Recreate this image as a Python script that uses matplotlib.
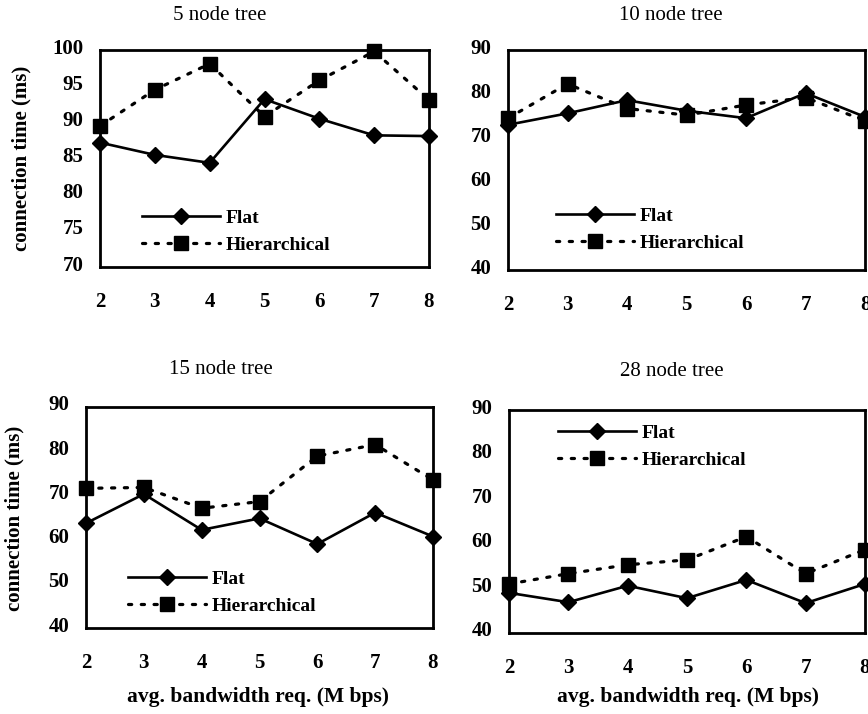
import matplotlib
matplotlib.use("Agg")
import matplotlib.pyplot as plt
from matplotlib.transforms import ScaledTranslation

plt.rcParams['font.family'] = ['Liberation Serif', 'DejaVu Serif']

x = [2, 3, 4, 5, 6, 7, 8]
xticks = [2, 3, 4, 5, 6, 7, 8]

titles = ["5 node tree", "10 node tree", "15 node tree", "28 node tree"]

flat_5 = [87.2, 85.5, 84.4, 93.2, 90.5, 88.2, 88.1]
hier_5 = [89.5, 94.5, 98.1, 90.8, 95.8, 99.8, 93.1]

flat_10 = [73.0, 75.6, 78.6, 76.2, 74.5, 80.2, 74.8]
hier_10 = [74.5, 82.3, 76.7, 75.2, 77.5, 79.2, 73.9]

flat_15 = [63.7, 70.3, 62.2, 64.8, 59.0, 66.1, 60.7]
hier_15 = [71.6, 71.8, 67.1, 68.6, 78.9, 81.5, 73.5]

flat_28 = [49.0, 46.9, 50.6, 47.8, 51.9, 46.7, 51.0]
hier_28 = [51.0, 53.3, 55.3, 56.4, 61.6, 53.3, 58.7]

yranges = [(70, 100, 5), (40, 90, 10), (40, 90, 10), (40, 90, 10)]
series = [(flat_5, hier_5), (flat_10, hier_10), (flat_15, hier_15), (flat_28, hier_28)]

ylabel = "connection time (ms)"
xlabel = "avg. bandwidth req. (M bps)"

W, H = 868, 714
fig = plt.figure(figsize=(W / 100, H / 100), dpi=100)

# axes boxes in pixels: left, top, right, bottom
boxes = [(100, 50, 429, 267), (508, 50, 865, 270), (86, 407, 433, 628), (509, 410, 865, 633)]
# legend anchor (upper-left of handle) in pixels
leg_pos = [(142, 209), (556, 207), (128, 570), (558, 424)]
title_pos = [(220, 16), (671, 16), (221, 370), (672, 372)]

def fx(px):
    return px / W

def fy(py):
    return (H - py) / H

lift = ScaledTranslation(0, 4 / 100, fig.dpi_scale_trans)

axes = []
for i, (l, t, r, b) in enumerate(boxes):
    ax = fig.add_axes([fx(l), fy(b), (r - l) / W, (b - t) / H])
    axes.append(ax)
    fl, hi = series[i]
    ax.plot(x, fl, color='black', lw=1.9, marker='D', ms=8.5, mfc='black',
            mec='black', clip_on=False, zorder=3, label='Flat')
    ax.plot(x, hi, color='black', lw=2.3, linestyle=(0, (1, 3)), dash_capstyle='round',
            marker='s', ms=10.5, mfc='black', mec='black', clip_on=False, zorder=3,
            label='Hierarchical')
    y0, y1, st = yranges[i]
    ax.set_xlim(2, 8)
    ax.set_ylim(y0, y1)
    ax.set_yticks(list(range(y0, y1 + 1, st)))
    ax.set_xticks(xticks)
    ax.tick_params(length=0, labelsize=15)
    ax.tick_params(axis='x', pad=18)
    ax.tick_params(axis='y', pad=12)
    for lab in ax.get_xticklabels() + ax.get_yticklabels():
        lab.set_fontweight('bold')
    for tick in ax.yaxis.get_major_ticks():
        tick.label1.set_transform(tick.label1.get_transform() + lift)
    for s in ax.spines.values():
        s.set_linewidth(2.0)
    tx, ty = title_pos[i]
    fig.text(fx(tx), fy(ty), titles[i], fontsize=15, ha='center', va='center')
    lx, ly = leg_pos[i]
    ax.legend(loc='upper left', bbox_to_anchor=(fx(lx), fy(ly)),
              bbox_transform=fig.transFigure, frameon=False,
              prop={'weight': 'bold', 'size': 14}, handlelength=4.0,
              handletextpad=0.3, labelspacing=0.5, borderpad=0, borderaxespad=0)

fig.text(fx(21), fy(158), ylabel, fontsize=15, fontweight='bold',
         rotation=90, ha='center', va='center')
fig.text(fx(14), fy(518), ylabel, fontsize=15, fontweight='bold',
         rotation=90, ha='center', va='center')
fig.text(fx(258), fy(697), xlabel, fontsize=15.5, fontweight='bold',
         ha='center', va='center')
fig.text(fx(688), fy(697), xlabel, fontsize=15.5, fontweight='bold',
         ha='center', va='center')

fig.savefig("out.png", dpi=100)
